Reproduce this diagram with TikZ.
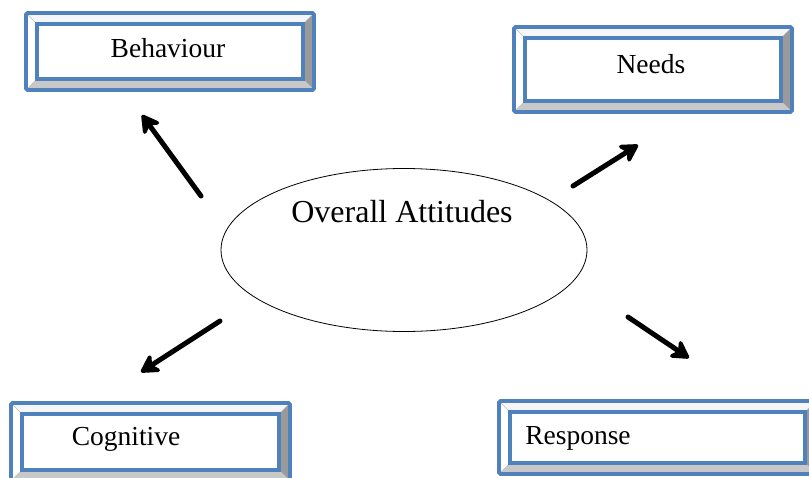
\documentclass[tikz,border=0pt]{standalone}
\usepackage{fontspec}
\setmainfont{Liberation Serif}
\usetikzlibrary{arrows.meta,shapes.geometric}
\definecolor{bevblue}{HTML}{4F81BD}
\definecolor{bevdark}{HTML}{9A9A9A}
\definecolor{bevlight}{HTML}{C8C8C8}
\definecolor{bevtop}{HTML}{F4F6FA}
\tikzset{
  boxtext/.style={font=\fontsize{27.5}{30}\selectfont, anchor=base, inner sep=0pt},
  bigtext/.style={font=\fontsize{32}{36}\selectfont, anchor=base, inner sep=0pt},
  bevline/.style={draw=bevblue, line width=3.8pt},
  bigarrow/.style={line width=5pt, line cap=round,
    -{Stealth[length=22pt, width=25pt, inset=7pt, round]}},
}
% #1 name, #2 x1, #3 y1, #4 x2, #5 y2, #6 bevel width
\newcommand\bevbox[6]{%
  \fill[white] (#2,#3) rectangle (#4,#5);
  \fill[bevtop] (#2,#3) -- (#4,#3) -- ({#4-#6},{#3+#6}) -- ({#2+#6},{#3+#6}) -- cycle;
  \fill[white] (#2,#3) -- ({#2+#6},{#3+#6}) -- ({#2+#6},{#5-#6}) -- (#2,#5) -- cycle;
  \fill[bevdark] (#4,#3) -- (#4,#5) -- ({#4-#6},{#5-#6}) -- ({#4-#6},{#3+#6}) -- cycle;
  \fill[bevlight] (#2,#5) -- (#4,#5) -- ({#4-#6},{#5-#6}) -- ({#2+#6},{#5-#6}) -- cycle;
  \draw[gray!50, line width=0.6pt] (#2,#3) -- ({#2+#6},{#3+#6}) (#4,#3) -- ({#4-#6},{#3+#6})
     (#2,#5) -- ({#2+#6},{#5-#6}) (#4,#5) -- ({#4-#6},{#5-#6});
  \draw[bevline, rounded corners=1.5pt] (#2,#3) rectangle (#4,#5);
  \draw[bevline] ({#2+#6},{#3+#6}) rectangle ({#4-#6},{#5-#6});
  \node[inner sep=0pt, minimum width={(#4-#2)*1pt}, minimum height={(#5-#3)*1pt}]
     (#1) at ({(#2+#4)/2},{(#3+#5)/2}) {};
}
\begin{document}
\begin{tikzpicture}[x=1pt, y=-1pt]
  \useasboundingbox (0,0) rectangle (809,477);

  \bevbox{behbox}{26}{13}{314}{90}{11}
  \bevbox{needbox}{514}{27}{792}{112}{11}
  \bevbox{cogbox}{11}{403}{290}{481}{11}
  \bevbox{respbox}{499}{401}{816}{474}{11}

  \node[boxtext] (beh) at (168,57) {Behaviour};
  \node[boxtext] (need) at (651,73) {Needs};
  \node[boxtext] (cog) at (126,445) {Cognitive};
  \node[boxtext] (resp) at (578,444) {Response};

  \node[draw=black, line width=0.8pt, ellipse, minimum width=366pt, minimum height=163pt,
        inner sep=0pt] (ell) at (404,250) {};
  \node[bigtext] (att) at (402,222) {Overall Attitudes};

  \coordinate (a1s) at (201,196); \coordinate (a1e) at (142,115);
  \coordinate (a2s) at (573,186); \coordinate (a2e) at (638,145);
  \coordinate (a3s) at (220,321); \coordinate (a3e) at (141,372);
  \coordinate (a4s) at (628,317); \coordinate (a4e) at (689,358);

  \draw[bigarrow] (a1s) -- (a1e);
  \draw[bigarrow] (a2s) -- (a2e);
  \draw[bigarrow] (a3s) -- (a3e);
  \draw[bigarrow] (a4s) -- (a4e);
\end{tikzpicture}
\end{document}
